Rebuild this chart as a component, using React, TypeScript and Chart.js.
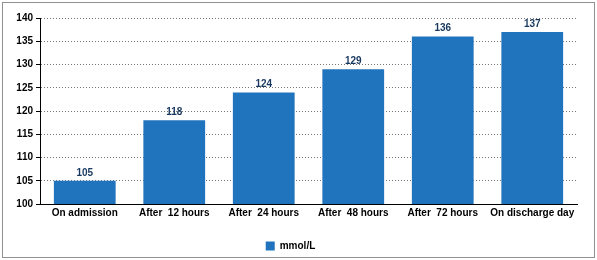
import React, { useEffect, useRef } from "react";
import { Chart, registerables } from "chart.js";

Chart.register(...registerables);

const categories = ["On admission", "After  12 hours", "After  24 hours", "After  48 hours", "After  72 hours", "On discharge day"];
const values = [105, 118, 124, 129, 136, 137];
const seriesName = "mmol/L";
const yMin = 100;
const yMax = 140;
const yStep = 5;

const BAR = "#1f74bd";
const FONT = "'Liberation Sans', Arial, sans-serif";

const framePlugin = {
  id: "frame",
  beforeDraw(chart: any) {
    const { ctx, width, height } = chart;
    ctx.save();
    ctx.fillStyle = "#ffffff";
    ctx.fillRect(0, 0, width, height);
    ctx.strokeStyle = "#222";
    ctx.lineWidth = 1;
    ctx.setLineDash([1, 1]);
    ctx.strokeRect(2.5, 2.5, width - 5, height - 5);
    ctx.restore();
  },
  afterDatasetsDraw(chart: any) {
    const { ctx } = chart;
    const meta = chart.getDatasetMeta(0);
    ctx.save();
    ctx.font = `bold 10px ${FONT}`;
    ctx.fillStyle = "#17375e";
    ctx.textAlign = "center";
    ctx.textBaseline = "bottom";
    meta.data.forEach((bar: any, i: number) => {
      ctx.fillText(String(values[i]), bar.x, bar.y - 3);
    });
    ctx.restore();
  },
};

export default function App() {
  const ref = useRef<HTMLCanvasElement | null>(null);
  useEffect(() => {
    document.body.style.margin = "0";
    const chart = new Chart(ref.current!, {
      type: "bar",
      data: {
        labels: categories,
        datasets: [
          {
            label: seriesName,
            data: values,
            backgroundColor: BAR,
            borderWidth: 0,
            categoryPercentage: 0.69,
            barPercentage: 1,
          },
        ],
      },
      options: {
        responsive: false,
        animation: false,
        layout: { padding: { top: 18, left: 4, right: 20, bottom: -1 } },
        plugins: {
          tooltip: { enabled: false },
          legend: {
            position: "bottom",
            labels: {
              boxWidth: 9,
              boxHeight: 9,
              color: "#000",
              font: { family: FONT, size: 10, weight: "bold" },
              padding: 8,
            },
          },
        },
        scales: {
          x: {
            grid: { display: false },
            border: { color: "#000" },
            ticks: {
              color: "#000",
              font: { family: FONT, size: 10, weight: "bold" },
              maxRotation: 0,
              autoSkip: false,
              padding: -5,
            },
            afterFit(s: any) {
              s.height = 29;
            },
          },
          y: {
            min: yMin,
            max: yMax,
            ticks: {
              stepSize: yStep,
              color: "#000",
              font: { family: FONT, size: 10, weight: "bold" },
              padding: 3,
            },
            border: { color: "#000", dash: [1, 2] },
            grid: {
              color: "#777",
              tickColor: "#000",
              tickLength: 4,
            },
            afterFit(s: any) {
              s.width = 36;
            },
          },
        },
      } as any,
      plugins: [framePlugin],
    });
    return () => chart.destroy();
  }, []);
  return <canvas ref={ref} width={597} height={260} style={{ display: "block" }} />;
}
